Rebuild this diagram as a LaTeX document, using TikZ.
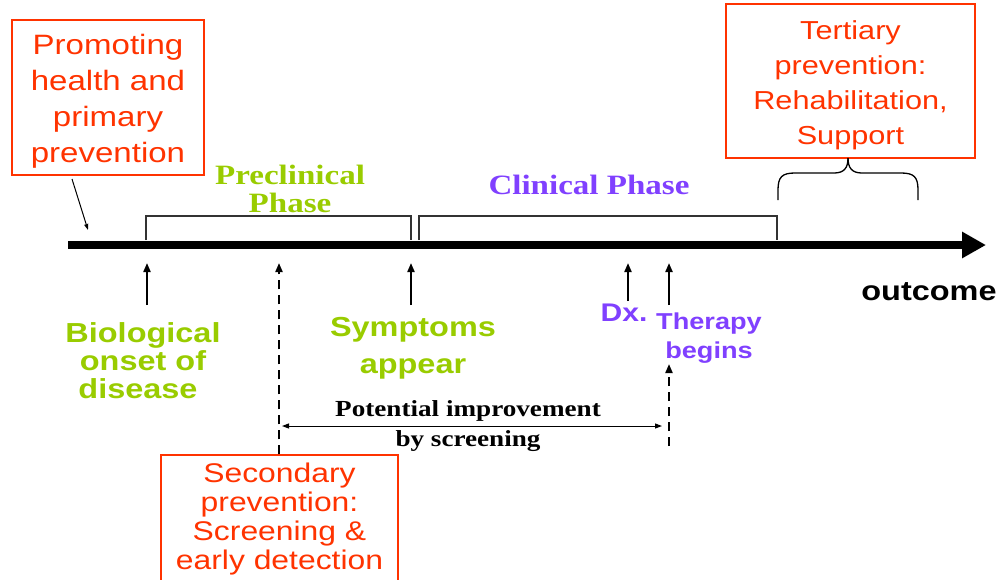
\documentclass[tikz,border=0pt]{standalone}
\usepackage{fontspec}
\usetikzlibrary{arrows.meta}
\newfontfamily\rsans{Liberation Sans}[FakeStretch=1.18]
\newfontfamily\rserif{Liberation Serif}[FakeStretch=1.18]
\definecolor{pred}{RGB}{255,51,0}
\definecolor{pgreen}{RGB}{153,204,0}
\definecolor{ppurple}{RGB}{128,64,255}
\tikzset{
  redbox/.style={draw=pred,line width=1.2pt,inner sep=0pt},
  lbl/.style={inner sep=0pt,align=center},
  uparrow/.style={line width=2pt,-{Triangle[length=9pt,width=7pt]}},
  dasharrow/.style={line width=2pt,dash pattern=on 9pt off 6pt,-{Triangle[length=9pt,width=7pt]}},
  bracket/.style={line width=1.3pt,draw=black!80},
}
\begin{document}
\begin{tikzpicture}[x=1pt,y=-1pt]
\useasboundingbox (0,0) rectangle (1001,579);
% boxes
\node[redbox,minimum width=192pt,minimum height=155pt] (prim) at (108,97.5) {};
\node[lbl,text=pred,font={\rsans\fontsize{28}{36}\selectfont}] (primtxt) at (108,101.5)
  {Promoting\\health and\\primary\\prevention};
\node[redbox,minimum width=249pt,minimum height=154pt] (tert) at (850.5,81) {};
\node[lbl,text=pred,font={\rsans\fontsize{26}{35}\selectfont}] (terttxt) at (850.5,85)
  {Tertiary\\prevention:\\Rehabilitation,\\Support};
\node[redbox,minimum width=237pt,minimum height=130pt] (sec) at (279.5,520) {};
\node[lbl,text=pred,font={\rsans\fontsize{27}{29}\selectfont}] (sectxt) at (279.5,519)
  {Secondary\\prevention:\\Screening \&\\early detection};
% axis
\coordinate (a0) at (68,245);
\coordinate (a1) at (986,245);
\draw[line width=8pt,-{Triangle[length=24pt,width=25pt]}] (a0) -- (a1);
% primary pointer
\coordinate (pp0) at (72,179);
\coordinate (pp1) at (88,230);
\draw[line width=1pt,-{Triangle[length=6pt,width=4pt]}] (pp0) -- (pp1);
% brackets
\coordinate (b1) at (146,240); \coordinate (b2) at (146,216);
\coordinate (b3) at (411,216); \coordinate (b4) at (411,240);
\draw[bracket] (b1) -- (b2) -- (b3) -- (b4);
\coordinate (c1) at (419,240); \coordinate (c2) at (419,216);
\coordinate (c3) at (777,216); \coordinate (c4) at (777,240);
\draw[bracket] (c1) -- (c2) -- (c3) -- (c4);
% brace
\coordinate (brL) at (778,200);
\coordinate (brR) at (918,200);
\coordinate (brT) at (848,158);
\draw[line width=1.3pt] (brL) -- (778,190) .. controls (778,177) and (782,173) .. (795,173)
  -- (834,173) .. controls (844,173) and (848,168) .. (brT);
\draw[line width=1.3pt] (brR) -- (918,190) .. controls (918,177) and (914,173) .. (901,173)
  -- (862,173) .. controls (852,173) and (848,168) .. (brT);
% phase labels
\node[lbl,text=pgreen,font={\rserif\bfseries\fontsize{28}{28}\selectfont}] (pre) at (290,189)
  {Preclinical\\Phase};
\node[lbl,text=ppurple,font={\rserif\bfseries\fontsize{28}{28}\selectfont}] (clin) at (589,185)
  {Clinical Phase};
% lower labels
\node[lbl,text=pgreen,font={\rsans\bfseries\fontsize{27.5}{28}\selectfont}] (bio) at (143,361)
  {Biological\\onset of\hspace*{8pt}\\disease\hspace*{10pt}};
\node[lbl,text=pgreen,font={\rsans\bfseries\fontsize{27.5}{37}\selectfont}] (sym) at (413,348)
  {Symptoms\\appear};
\node[lbl,text=ppurple,font={\rsans\bfseries\fontsize{25.5}{28}\selectfont}] (dx) at (624,313)
  {Dx.};
\node[lbl,text=ppurple,font={\rsans\bfseries\fontsize{23}{29}\selectfont}] (ther) at (709,338)
  {Therapy\\begins};
\node[lbl,font={\rsans\bfseries\fontsize{27.5}{28}\selectfont}] (out) at (929,292)
  {outcome};
\node[lbl,font={\rserif\bfseries\fontsize{23}{30}\selectfont}] (pot) at (468,426)
  {Potential improvement\\by screening};
% up arrows
\coordinate (t1) at (147,263); \coordinate (s1) at (147,305);
\coordinate (t2) at (411,263); \coordinate (s2) at (411,305);
\coordinate (t3) at (279,263);
\coordinate (t4) at (628,263); \coordinate (s4) at (628,301);
\coordinate (t5) at (669,263); \coordinate (s5) at (669,305);
\coordinate (t6) at (669,364); \coordinate (s6) at (669,446);
\draw[uparrow] (s1) -- (t1);
\draw[uparrow] (s2) -- (t2);
\draw[uparrow] (s4) -- (t4);
\draw[uparrow] (s5) -- (t5);
\draw[dasharrow] (sec.north -| t3) -- (t3);
\draw[dasharrow] (s6) -- (t6);
% double arrow
\coordinate (d0) at (282,426); \coordinate (d1) at (662,426);
\draw[line width=1pt,{Triangle[length=7pt,width=5pt]}-{Triangle[length=7pt,width=5pt]}] (d0) -- (d1);
\end{tikzpicture}
\end{document}
